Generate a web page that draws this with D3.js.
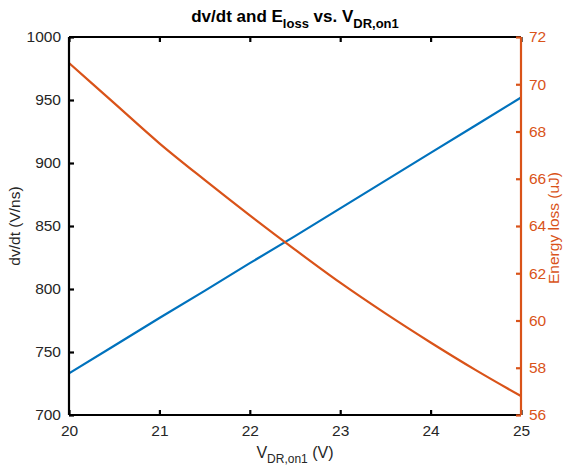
<!DOCTYPE html>
<html>
<head>
<meta charset="utf-8">
<script src="https://cdn.jsdelivr.net/npm/d3@7"></script>
<style>
body { margin: 0; background: #fff; }
svg { display: block; font-family: "Liberation Sans", Arial, sans-serif; }
</style>
</head>
<body>
<svg id="chart" width="567" height="468"></svg>
<script>
// Data
const vdr = [20, 20.5, 21, 21.5, 22, 22.5, 23, 23.5, 24, 24.5, 25];
const dvdt = [733, 755, 777, 798.5, 820.5, 842, 864, 886, 908, 930, 952];
const eloss = [70.9, 69.2, 67.5, 65.95, 64.45, 63.0, 61.6, 60.3, 59.07, 57.9, 56.8];
const xTicks = [20, 21, 22, 23, 24, 25];
const yLeftTicks = [700, 750, 800, 850, 900, 950, 1000];
const yRightTicks = [56, 58, 60, 62, 64, 66, 68, 70, 72];

const blue = "#0072BD", orange = "#D95319";
const svg = d3.select("#chart");
const L = 69, R = 521, T = 37, B = 415;

const x = d3.scaleLinear().domain([20, 25]).range([L, R]);
const yL = d3.scaleLinear().domain([700, 1000]).range([B, T]);
const yR = d3.scaleLinear().domain([56, 72]).range([B, T]);

const tickLen = 5;
const fs = 15.5;

// lines
const lineL = d3.line().x((d, i) => x(vdr[i])).y(d => yL(d));
const lineR = d3.line().x((d, i) => x(vdr[i])).y(d => yR(d)).curve(d3.curveMonotoneX);
svg.append("path").attr("d", lineL(dvdt)).attr("fill", "none").attr("stroke", blue).attr("stroke-width", 2.2);
svg.append("path").attr("d", lineR(eloss)).attr("fill", "none").attr("stroke", orange).attr("stroke-width", 2.2);

// bottom axis
const gB = svg.append("g").attr("transform", `translate(0,${B})`)
  .call(d3.axisBottom(x).tickValues(xTicks).tickSize(-tickLen).tickPadding(10).tickFormat(d3.format("d")));
// top axis
const gT = svg.append("g").attr("transform", `translate(0,${T})`)
  .call(d3.axisTop(x).tickValues(xTicks).tickSize(-tickLen).tickFormat(""));
// left axis
const gL = svg.append("g").attr("transform", `translate(${L},0)`)
  .call(d3.axisLeft(yL).tickValues(yLeftTicks).tickSize(-tickLen).tickPadding(8).tickFormat(d3.format("d")));
// right axis
const gR = svg.append("g").attr("transform", `translate(${R},0)`)
  .call(d3.axisRight(yR).tickValues(yRightTicks).tickSize(-tickLen).tickPadding(8).tickFormat(d3.format("d")));

[gB, gT, gL].forEach(g => {
  g.select(".domain").attr("stroke", "#000").attr("stroke-width", 2.2);
  g.selectAll(".tick line").attr("stroke", "#000").attr("stroke-width", 2.2);
  g.selectAll(".tick text").attr("fill", "#262626").attr("font-size", fs).attr("font-family", "Liberation Sans, Arial, sans-serif");
});
gR.select(".domain").attr("stroke", orange).attr("stroke-width", 2.2);
gR.selectAll(".tick line").attr("stroke", orange).attr("stroke-width", 2.2);
gR.selectAll(".tick text").attr("fill", orange).attr("font-size", fs).attr("font-family", "Liberation Sans, Arial, sans-serif");
gT.selectAll(".domain").attr("d", `M${L},0H${R}`);
gB.selectAll(".domain").attr("d", `M${L},0H${R}`);
gL.selectAll(".domain").attr("d", `M0,${B}V${T}`);
gR.selectAll(".domain").attr("d", `M0,${B}V${T}`);

// title
const title = svg.append("text").attr("x", 295).attr("y", 22).attr("text-anchor", "middle")
  .attr("font-size", 17).attr("font-weight", "bold").attr("fill", "#000");
title.append("tspan").text("dv/dt and E");
title.append("tspan").attr("dy", 6).attr("font-size", 13).text("loss");
title.append("tspan").attr("dy", -6).text(" vs. V");
title.append("tspan").attr("dy", 6).attr("font-size", 13).text("DR,on1");

// x label
const xl = svg.append("text").attr("x", 295).attr("y", 458).attr("text-anchor", "middle")
  .attr("font-size", 16).attr("fill", "#262626");
xl.append("tspan").text("V");
xl.append("tspan").attr("dy", 5).attr("font-size", 12).text("DR,on1");
xl.append("tspan").attr("dy", -5).text(" (V)");

// y labels
svg.append("text").attr("transform", `translate(20,226) rotate(-90)`)
  .attr("text-anchor", "middle").attr("font-size", 15.5).attr("fill", "#262626").text("dv/dt (V/ns)");
svg.append("text").attr("transform", `translate(559,228) rotate(-90)`)
  .attr("text-anchor", "middle").attr("font-size", 15.5).attr("fill", orange).text("Energy loss (uJ)");
</script>
</body>
</html>
